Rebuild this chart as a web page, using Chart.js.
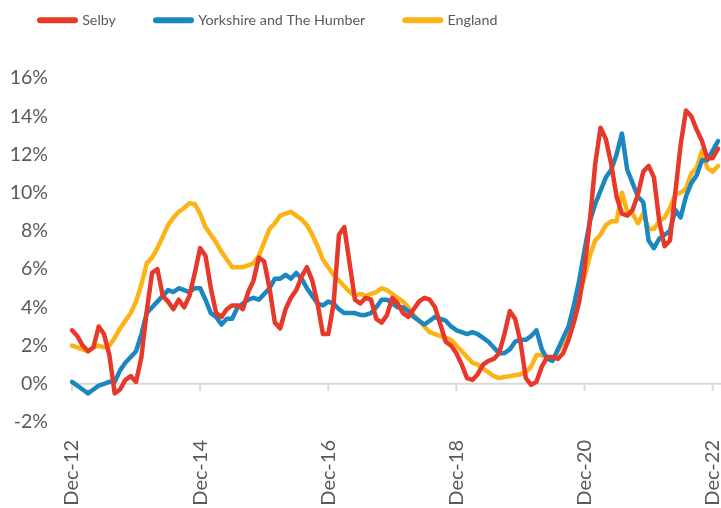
<!DOCTYPE html>
<html><head><meta charset="utf-8">
<script src="https://cdn.jsdelivr.net/npm/chart.js@4.4.1/dist/chart.umd.min.js"></script>
<style>html,body{margin:0;padding:0;background:#fff;} #wrap{position:relative;width:721px;height:508px;}</style>
</head><body>
<div id="wrap"><canvas id="c" width="721" height="508"></canvas></div>
<script>
const seriesNames = ['Selby', 'Yorkshire and The Humber', 'England'];
const seriesColors = ['#e8382a', '#1b87c1', '#fcb316'];
const monthNames = ['Jan','Feb','Mar','Apr','May','Jun','Jul','Aug','Sep','Oct','Nov','Dec'];
const categories = ['Dec-12'];
for (let y = 13; y <= 23; y++) {
  for (let m = 0; m < 12; m++) {
    if (y === 23 && m > 0) break;
    categories.push(monthNames[m] + '-' + y);
  }
}
const tickLabels = ['Dec-12', 'Dec-14', 'Dec-16', 'Dec-18', 'Dec-20', 'Dec-22'];
const yMin = -2, yMax = 16, yStep = 2;

const selby = [
  2.8, 2.5, 2.0, 1.7, 1.9, 3.0, 2.6, 1.5, -0.5, -0.3, 0.2, 0.4,
  0.1, 1.4, 3.8, 5.8, 6.0, 4.6, 4.3, 3.9, 4.4, 4.0, 4.6, 5.8,
  7.1, 6.7, 5.0, 3.7, 3.5, 3.9, 4.1, 4.1, 3.9, 4.8, 5.4, 6.6,
  6.4, 5.0, 3.2, 2.9, 3.9, 4.5, 4.9, 5.6, 6.1, 5.4, 4.2, 2.6,
  2.6, 4.2, 7.8, 8.2, 6.3, 4.4, 4.2, 4.5, 4.4, 3.4, 3.2, 3.6,
  4.5, 4.2, 3.7, 3.5, 3.9, 4.3, 4.5, 4.4, 4.0, 3.1, 2.2, 2.0,
  1.6, 1.0, 0.3, 0.2, 0.5, 1.0, 1.2, 1.3, 1.6, 2.6, 3.8, 3.4,
  2.2, 0.3, -0.05, 0.1, 0.9, 1.4, 1.4, 1.3, 1.6, 2.3, 3.2, 4.3,
  6.0, 8.5, 11.5, 13.4, 12.8, 11.5, 9.8, 8.9, 8.8, 9.1, 9.9, 11.1,
  11.4, 10.8, 8.5, 7.2, 7.5, 10.0, 12.5, 14.3, 14.0, 13.3, 12.7, 11.8,
  11.8, 12.3
];
const yorkshire = [
  0.1, -0.1, -0.3, -0.5, -0.3, -0.1, 0.0, 0.1, 0.1, 0.7, 1.1, 1.4,
  1.7, 2.6, 3.7, 4.0, 4.3, 4.6, 4.9, 4.8, 5.0, 4.9, 4.8, 5.0,
  5.0, 4.4, 3.7, 3.5, 3.1, 3.4, 3.4, 4.0, 4.2, 4.4, 4.5, 4.4,
  4.7, 5.0, 5.5, 5.5, 5.7, 5.5, 5.8, 5.5, 5.0, 4.6, 4.2, 4.1,
  4.3, 4.2, 3.9, 3.7, 3.7, 3.7, 3.6, 3.6, 3.7, 4.0, 4.4, 4.4,
  4.2, 4.0, 4.0, 3.8, 3.5, 3.3, 3.1, 3.3, 3.5, 3.4, 3.3, 3.0,
  2.8, 2.7, 2.6, 2.7, 2.6, 2.4, 2.2, 1.9, 1.6, 1.6, 1.8, 2.2,
  2.3, 2.3, 2.5, 2.8, 1.8, 1.3, 1.2, 1.8, 2.4, 3.0, 4.1, 5.4,
  7.0, 8.5, 9.4, 10.1, 10.8, 11.2, 12.0, 13.1, 11.2, 10.5, 9.8, 9.5,
  7.5, 7.1, 7.6, 7.8, 8.0, 9.1, 8.7, 9.8, 10.5, 10.9, 11.7, 11.7,
  12.2, 12.7
];
const england = [
  2.0, 1.9, 1.8, 1.7, 1.9, 2.0, 1.9, 2.0, 2.4, 2.9, 3.3, 3.7,
  4.3, 5.2, 6.3, 6.6, 7.1, 7.7, 8.3, 8.7, 9.0, 9.2, 9.45, 9.4,
  8.9, 8.2, 7.8, 7.4, 6.9, 6.5, 6.1, 6.1, 6.1, 6.2, 6.3, 6.7,
  7.4, 8.1, 8.4, 8.8, 8.9, 9.0, 8.8, 8.6, 8.3, 7.8, 7.2, 6.5,
  6.1, 5.7, 5.4, 5.1, 4.8, 4.6, 4.7, 4.6, 4.7, 4.8, 5.0, 4.9,
  4.7, 4.5, 4.3, 4.0, 3.6, 3.3, 3.0, 2.7, 2.6, 2.5, 2.4, 2.3,
  2.0, 1.7, 1.4, 1.1, 1.0, 0.8, 0.6, 0.4, 0.3, 0.35, 0.4, 0.45,
  0.5, 0.6, 0.9, 1.5, 1.5, 1.4, 1.3, 1.7, 2.2, 2.7, 3.6, 4.6,
  5.6, 6.7, 7.5, 7.8, 8.3, 8.5, 8.5, 10.0, 9.0, 8.9, 8.4, 8.9,
  8.1, 8.1, 8.5, 8.7, 9.2, 9.9, 10.0, 10.2, 11.0, 11.3, 12.2, 11.3,
  11.1, 11.4
];

const TEXT = '#595959';
const FONT = 'Lato';

const zeroAxis = {
  id: 'zeroAxis',
  beforeDatasetsDraw(chart) {
    const {ctx, chartArea} = chart;
    const x = chart.scales.x, y = chart.scales.y;
    const y0 = y.getPixelForValue(0);
    ctx.save();
    ctx.strokeStyle = '#d9d9d9';
    ctx.lineWidth = 2;
    ctx.beginPath();
    ctx.moveTo(chartArea.left - 1, y0);
    ctx.lineTo(chartArea.right + 3, y0);
    categories.forEach((c, i) => {
      if (tickLabels.includes(c)) {
        const px = x.getPixelForValue(i);
        ctx.moveTo(px, y0);
        ctx.lineTo(px, y0 + 7);
      }
    });
    ctx.stroke();
    ctx.restore();
  }
};

const legendLayout = {
  id: 'legendLayout',
  beforeLayout(chart) {
    const lg = chart.legend;
    if (lg && !lg.__patched) {
      const fit = lg.fit;
      lg.fit = function () { fit.call(this); this.height = 78; };
      lg.__patched = true;
    }
  },
  afterLayout(chart) {
    if (chart.legend) chart.legend.top = -27;
  }
};

const chart = new Chart(document.getElementById('c'), {
  type: 'line',
  data: {
    labels: categories,
    datasets: [selby, yorkshire, england].map((d, k) => ({
      label: seriesNames[k],
      data: d,
      borderColor: seriesColors[k],
      backgroundColor: seriesColors[k],
      borderWidth: 4.5,
      borderCapStyle: 'round',
      borderJoinStyle: 'round',
      pointRadius: 0,
      pointHoverRadius: 0,
      tension: 0,
      fill: false
    }))
  },
  options: {
    responsive: false,
    devicePixelRatio: 1,
    animation: false,
    layout: {padding: {left: 0, right: 3, top: 0, bottom: 0}},
    plugins: {
      tooltip: {enabled: false},
      legend: {
        display: true,
        position: 'top',
        align: 'start',
        labels: {
          usePointStyle: true,
          pointStyle: 'line',
          pointStyleWidth: 35,
          padding: 40,
          color: TEXT,
          font: {family: FONT, size: 14.3},
          generateLabels(chart) {
            const items = Chart.defaults.plugins.legend.labels.generateLabels(chart);
            items.forEach(it => { it.lineWidth = 6; it.lineCap = 'round'; it.pointStyle = 'line'; });
            return items;
          }
        }
      }
    },
    scales: {
      x: {
        type: 'category',
        offset: false,
        grid: {display: false, drawTicks: false},
        border: {display: false},
        ticks: {
          autoSkip: false,
          maxRotation: 90,
          minRotation: 90,
          padding: 18,
          color: TEXT,
          font: {family: FONT, size: 20},
          callback: (v, i) => tickLabels.includes(categories[i]) ? categories[i] : ''
        },
        afterFit(s) { s.height = 86; s.paddingLeft = 0; s.paddingRight = 0; }
      },
      y: {
        min: yMin,
        max: yMax,
        grid: {display: false, drawTicks: false},
        border: {display: false},
        ticks: {
          stepSize: yStep,
          padding: 24,
          color: TEXT,
          font: {family: FONT, size: 19.5},
          callback: v => v + '%'
        },
        afterFit(s) { s.width = 72; }
      }
    }
  },
  plugins: [zeroAxis, legendLayout]
});
</script>
</body></html>
